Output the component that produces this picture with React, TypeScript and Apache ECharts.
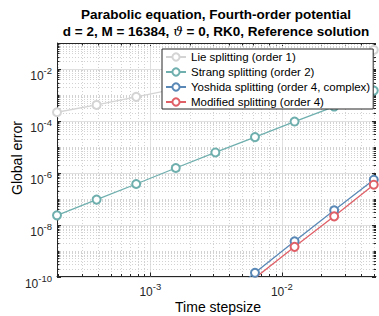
import React, { useEffect, useRef } from 'react';
import * as echarts from 'echarts';

// Step sizes (x) and global errors (y)
const stepSizes = [1.953125e-4, 3.90625e-4, 7.8125e-4, 1.5625e-3, 3.125e-3, 6.25e-3, 1.25e-2, 2.5e-2, 5e-2];
const lieErr = [2.14e-4, 4.1e-4, 8.4e-4, 1.7e-3, 3.4e-3, 6.8e-3, 1.36e-2, 2.7e-2, 5.4e-2];
const strangErr = [2.28e-8, 9.2e-8, 3.67e-7, 1.52e-6, 6.04e-6, 2.36e-5, 9.4e-5, 3.55e-4, 1.46e-3];
const yoshidaErr = [null, null, null, null, 8.4e-12, 1.39e-10, 2.28e-9, 3.55e-8, 5.38e-7];
const modifiedErr = [null, null, null, null, null, 8.7e-11, 1.39e-9, 2.08e-8, 3.45e-7];

const seriesNames = [
  'Lie splitting (order 1)',
  'Strang splitting (order 2)',
  'Yoshida splitting (order 4, complex)',
  'Modified splitting (order 4)',
];
const seriesColors = ['#d4d4d4', '#6fafae', '#5a88b6', '#e06068'];

const X_MIN = 1.953125e-4;
const X_MAX = 0.052;
const Y_MIN = 1e-10;
const Y_MAX = 1e-1;

const xMajorTicks = [1e-3, 1e-2];
const yMajorTicks = [1e-10, 1e-8, 1e-6, 1e-4, 1e-2];
const mantissas = [2, 3, 4, 5, 6, 7, 8, 9];
const xDecades = [-4, -3, -2];
const yDecades = [-10, -9, -8, -7, -6, -5, -4, -3, -2];
const yOddDecades = [1e-9, 1e-7, 1e-5, 1e-3];

const FONT = '"Liberation Sans", Arial, Helvetica, sans-serif';
const AXIS_COLOR = '#262626';

function pairs(vals: (number | null)[]) {
  const out: [number, number][] = [];
  vals.forEach((v, i) => {
    if (v != null) out.push([stepSizes[i], v]);
  });
  return out;
}

function isDecade(v: number) {
  const e = Math.log10(v);
  return Math.abs(e - Math.round(e)) < 1e-6;
}

export default function App() {
  const ref = useRef<HTMLDivElement>(null);
  useEffect(() => {
    if (!ref.current) return;
    const chart = echarts.init(ref.current, null, { renderer: 'svg' });

    const frameData: number[][] = [];
    xMajorTicks.forEach((v) => frameData.push([v, 1e-5, 0]));
    xDecades.forEach((k) =>
      mantissas.forEach((m) => {
        const v = m * Math.pow(10, k);
        if (v > X_MIN && v < X_MAX) frameData.push([v, 1e-5, 1]);
      })
    );
    yMajorTicks.forEach((v) => frameData.push([1e-3, v, 2]));
    yOddDecades.forEach((v) => frameData.push([1e-3, v, 3]));
    yDecades.forEach((k) =>
      mantissas.forEach((m) => {
        const v = m * Math.pow(10, k);
        if (v > Y_MIN && v < Y_MAX) frameData.push([1e-3, v, 3]);
      })
    );
    frameData.push([1e-3, 1e-5, 4]);

    const richLabel = {
      m: { fontSize: 12, fontFamily: FONT, color: AXIS_COLOR, lineHeight: 12, verticalAlign: 'top', padding: [7, 0, 0, 0] },
      s: { fontSize: 9.5, fontFamily: FONT, color: AXIS_COLOR, lineHeight: 10, verticalAlign: 'top', padding: [3, 0, 0, 0] },
    };

    const lineSeries = [lieErr, strangErr, yoshidaErr, modifiedErr].map((vals, i) => ({
      type: 'line',
      name: seriesNames[i],
      data: pairs(vals),
      symbol: 'emptyCircle',
      symbolSize: 8,
      clip: true,
      z: 3,
      itemStyle: { color: seriesColors[i], borderWidth: 1.2 },
      lineStyle: { color: seriesColors[i], width: 1.3 },
    }));

    chart.setOption({
      animation: false,
      backgroundColor: '#fff',
      grid: { left: 57, top: 43, width: 323, height: 233.5, containLabel: false },
      legend: {
        orient: 'vertical',
        left: 162,
        top: 49,
        itemWidth: 20,
        itemHeight: 9,
        itemGap: 1,
        itemTextGap: 4,
        padding: [1, 3, 0, 3],
        backgroundColor: '#fff',
        borderColor: AXIS_COLOR,
        borderWidth: 1,
        borderRadius: 0,
        textStyle: { fontSize: 11.5, fontFamily: FONT, color: '#000', lineHeight: 14 },
        data: seriesNames,
      },
      xAxis: {
        type: 'log',
        logBase: 10,
        min: X_MIN,
        max: X_MAX,
        axisLine: { show: true, lineStyle: { color: AXIS_COLOR, width: 1 } },
        axisTick: { show: false },
        splitLine: { show: false },
        axisLabel: {
          margin: 2,
          formatter: (v: number) => (isDecade(v) ? `{m|10}{s|${Math.round(Math.log10(v))}}` : ''),
          rich: richLabel,
        },
      },
      yAxis: {
        type: 'log',
        logBase: 10,
        min: Y_MIN,
        max: Y_MAX,
        axisLine: { show: true, lineStyle: { color: AXIS_COLOR, width: 1 } },
        axisTick: { show: false },
        splitLine: { show: false },
        axisLabel: {
          margin: 5,
          formatter: (v: number) => {
            if (!isDecade(v)) return '';
            const e = Math.round(Math.log10(v));
            return e % 2 === 0 ? `{m|10}{s|${e}}` : '';
          },
          rich: richLabel,
        },
      },
      graphic: [
        {
          type: 'text',
          x: 216,
          y: 14,
          style: {
            text: 'Parabolic equation, Fourth-order potential',
            font: `bold 13.5px ${FONT}`,
            fill: '#000',
            textAlign: 'center',
            textVerticalAlign: 'middle',
          },
        },
        {
          type: 'text',
          x: 216,
          y: 31,
          style: {
            text: '{b|d = 2, M = 16384, }{i|ϑ}{b| = 0, RK0, Reference solution}',
            textAlign: 'center',
            textVerticalAlign: 'middle',
            rich: {
              b: { fontSize: 13.5, fontWeight: 'bold', fontFamily: FONT, fill: '#000', color: '#000' },
              i: { fontSize: 13.5, fontStyle: 'italic', fontFamily: '"DejaVu Serif", serif', fill: '#000', color: '#000' },
            },
          },
        },
        {
          type: 'text',
          x: 218,
          y: 307,
          style: {
            text: 'Time stepsize',
            font: `14px ${FONT}`,
            fill: '#000',
            textAlign: 'center',
            textVerticalAlign: 'middle',
          },
        },
        {
          type: 'text',
          x: 17,
          y: 158,
          rotation: Math.PI / 2,
          style: {
            text: 'Global error',
            font: `14px ${FONT}`,
            fill: '#000',
            textAlign: 'center',
            textVerticalAlign: 'middle',
          },
        },
      ],
      series: [
        {
          type: 'custom',
          silent: true,
          z: 1,
          data: frameData,
          renderItem: (params: any, api: any) => {
            const kind = api.value(2);
            const cs = params.coordSys;
            const left = cs.x;
            const top = cs.y;
            const right = cs.x + cs.width;
            const bottom = cs.y + cs.height;
            const children: any[] = [];
            const tickStyle = { stroke: AXIS_COLOR, lineWidth: 1 };
            if (kind === 0 || kind === 1) {
              const px = Math.round(api.coord([api.value(0), 1e-5])[0]) + 0.5;
              const len = kind === 0 ? 4 : 2.5;
              children.push({
                type: 'line',
                shape: { x1: px, y1: top, x2: px, y2: bottom },
                style: kind === 0 ? { stroke: '#e0e0e0', lineWidth: 1 } : { stroke: '#d2d2d2', lineWidth: 1, lineDash: [1, 2] },
              });
              children.push({ type: 'line', shape: { x1: px, y1: bottom, x2: px, y2: bottom - len }, style: tickStyle });
              children.push({ type: 'line', shape: { x1: px, y1: top, x2: px, y2: top + len }, style: tickStyle });
            } else if (kind === 2 || kind === 3) {
              const py = Math.round(api.coord([1e-3, api.value(1)])[1]) + 0.5;
              const len = kind === 2 ? 4 : 2.5;
              children.push({
                type: 'line',
                shape: { x1: left, y1: py, x2: right, y2: py },
                style: kind === 2 ? { stroke: '#e0e0e0', lineWidth: 1 } : { stroke: '#d2d2d2', lineWidth: 1, lineDash: [1, 2] },
              });
              children.push({ type: 'line', shape: { x1: left, y1: py, x2: left + len, y2: py }, style: tickStyle });
              children.push({ type: 'line', shape: { x1: right, y1: py, x2: right - len, y2: py }, style: tickStyle });
            } else {
              children.push({ type: 'line', shape: { x1: left, y1: top + 0.5, x2: right, y2: top + 0.5 }, style: tickStyle });
            }
            return { type: 'group', children };
          },
        },
        ...lineSeries,
      ],
    });
    return () => chart.dispose();
  }, []);
  return <div ref={ref} style={{ position: 'fixed', left: 0, top: 0, width: 379, height: 316 }} />;
}
